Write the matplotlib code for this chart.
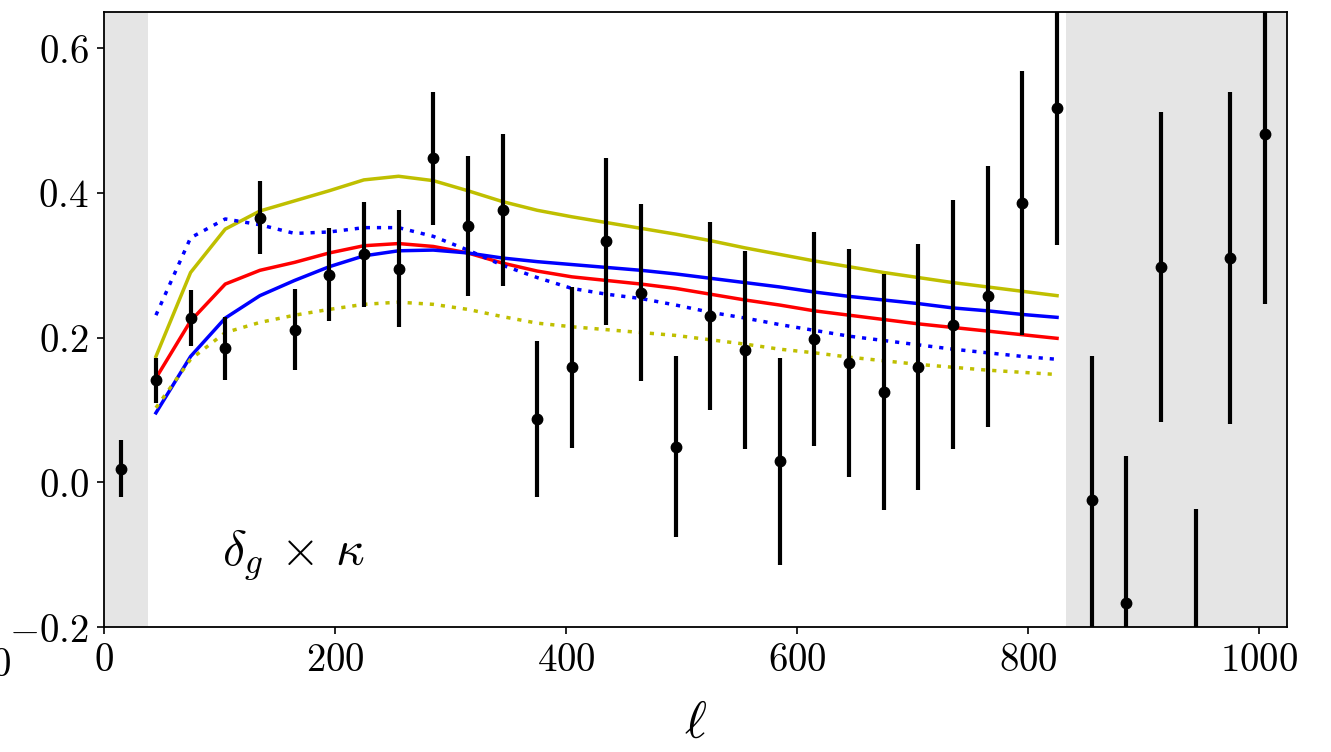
import numpy as np
import matplotlib
matplotlib.use("Agg")
import matplotlib.pyplot as plt
from matplotlib.ticker import FuncFormatter, FixedLocator

plt.rcParams["mathtext.fontset"] = "cm"
plt.rcParams["font.family"] = "serif"
plt.rcParams["font.serif"] = ["DejaVu Serif"]

# Measured bandpowers (bin centres, values, 1-sigma errors)
ell_data = [15, 45, 75, 105, 135, 165, 195, 225, 255, 285, 315, 345, 375, 405,
            435, 465, 495, 525, 555, 585, 615, 645, 675, 705, 735, 765, 795, 825,
            855, 885, 915, 945, 975, 1005]
cl_data = [0.019, 0.141, 0.227, 0.185, 0.366, 0.211, 0.287, 0.315, 0.295, 0.448,
           0.354, 0.377, 0.088, 0.159, 0.333, 0.262, 0.049, 0.230, 0.183, 0.029,
           0.198, 0.165, 0.125, 0.159, 0.218, 0.257, 0.386, 0.518, -0.024, -0.167,
           0.298, -0.257, 0.310, 0.482]
cl_err = [0.039, 0.031, 0.039, 0.044, 0.050, 0.056, 0.064, 0.073, 0.081, 0.092,
          0.097, 0.105, 0.108, 0.111, 0.115, 0.122, 0.125, 0.130, 0.137, 0.143,
          0.148, 0.158, 0.163, 0.170, 0.172, 0.180, 0.182, 0.190, 0.199, 0.204,
          0.214, 0.220, 0.229, 0.235]

# Theory curves evaluated at the bins used in the fit
ell_model = [45, 75, 105, 135, 165, 195, 225, 255, 285, 315, 345, 375, 405, 435,
             465, 495, 525, 555, 585, 615, 645, 675, 705, 735, 765, 795, 825]
model_yellow = [0.174, 0.290, 0.350, 0.375, 0.389, 0.403, 0.418, 0.423, 0.417,
                0.403, 0.388, 0.376, 0.367, 0.359, 0.351, 0.343, 0.334, 0.324,
                0.315, 0.306, 0.298, 0.290, 0.283, 0.276, 0.270, 0.264, 0.258]
model_red = [0.144, 0.223, 0.274, 0.293, 0.304, 0.317, 0.327, 0.330, 0.326,
             0.317, 0.303, 0.292, 0.284, 0.279, 0.274, 0.268, 0.260, 0.252,
             0.245, 0.237, 0.231, 0.225, 0.219, 0.214, 0.209, 0.204, 0.199]
model_blue = [0.096, 0.174, 0.227, 0.258, 0.279, 0.298, 0.313, 0.320, 0.321,
              0.317, 0.310, 0.305, 0.301, 0.297, 0.293, 0.288, 0.282, 0.276,
              0.270, 0.263, 0.257, 0.252, 0.247, 0.241, 0.237, 0.232, 0.228]
model_blue_dot = [0.231, 0.338, 0.364, 0.356, 0.344, 0.346, 0.352, 0.352, 0.340,
                  0.321, 0.300, 0.283, 0.268, 0.260, 0.254, 0.245, 0.235, 0.227,
                  0.218, 0.210, 0.202, 0.196, 0.190, 0.184, 0.179, 0.174, 0.170]
model_yellow_dot = [0.103, 0.170, 0.207, 0.221, 0.231, 0.239, 0.246, 0.249, 0.246,
                    0.239, 0.229, 0.220, 0.215, 0.211, 0.207, 0.203, 0.197, 0.191,
                    0.184, 0.179, 0.173, 0.168, 0.163, 0.159, 0.155, 0.152, 0.149]

ell_min, ell_max = 38, 833
x_ticks = [0, 200, 400, 600, 800, 1000]
y_ticks = [-0.2, 0.0, 0.2, 0.4, 0.6]

fig = plt.figure(figsize=(13.31, 7.52), dpi=100)
ax = fig.add_axes([0.0781, 0.1662, 0.8888, 0.8178])

ax.axvspan(0, ell_min, color="gray", alpha=0.2, lw=0, zorder=0)
ax.axvspan(ell_max, 1024, color="gray", alpha=0.2, lw=0, zorder=0)

lw = 2.5
dots = (0, (1.2, 2.0))
ax.plot(ell_model, model_yellow, color="y", lw=lw, zorder=2)
ax.plot(ell_model, model_red, color="r", lw=lw, zorder=2)
ax.plot(ell_model, model_blue, color="b", lw=lw, zorder=2)
ax.plot(ell_model, model_blue_dot, color="b", lw=lw, ls=dots, zorder=2)
ax.plot(ell_model, model_yellow_dot, color="y", lw=lw, ls=dots, zorder=2)

ax.errorbar(ell_data, cl_data, yerr=cl_err, fmt="o", color="k", ms=7.5,
            elinewidth=3, capsize=0, zorder=3)

ax.text(102, -0.113, r"$\delta_g\,\times\,\kappa$", fontsize=36)

ax.set_xlim(0, 1024)
ax.set_ylim(-0.2, 0.65)
ax.xaxis.set_major_locator(FixedLocator(x_ticks))
ax.yaxis.set_major_locator(FixedLocator(y_ticks))
ax.xaxis.set_major_formatter(FuncFormatter(lambda v, p: rf"${v:.0f}$"))
ax.yaxis.set_major_formatter(FuncFormatter(lambda v, p: rf"${v:.1f}$"))
ax.tick_params(axis="both", direction="out", length=5, width=1.2, labelsize=28, pad=6)
for s in ax.spines.values():
    s.set_linewidth(1.3)

ax.set_xlabel(r"$\ell$", fontsize=38, labelpad=13)

# Edge of the neighbouring panel's x-axis label
fig.text(0.0008, 0.115, r"$0$", fontsize=28, ha="center", va="center")

fig.savefig("out.png", dpi=100)
